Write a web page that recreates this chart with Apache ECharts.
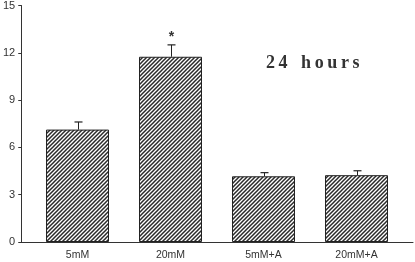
<!DOCTYPE html>
<html>
<head>
<meta charset="utf-8">
<script src="https://cdn.jsdelivr.net/npm/echarts@6/dist/echarts.min.js"></script>
<style>
  html, body { margin: 0; padding: 0; background: #fff; }
  #chart { width: 415px; height: 262px; }
</style>
</head>
<body>
<div id="chart"></div>
<script>
// data
const categories = ['5mM', '20mM', '5mM+A', '20mM+A'];
const means = [7.1, 11.7, 4.15, 4.22];
const errTops = [7.58, 12.45, 4.38, 4.5];
const marks = ['', '*', '', ''];
const yTicks = [0, 3, 6, 9, 12, 15];

// diagonal hatch for the bars
function hatch() {
    let c = document.createElement('canvas');
    c.width = 4; c.height = 4;
    let ctx = c.getContext('2d');
    ctx.fillStyle = '#fff';
    ctx.fillRect(0, 0, 4, 4);
    ctx.strokeStyle = '#2a2a2a';
    ctx.lineWidth = 1.5;
    ctx.beginPath();
    ctx.moveTo(-1, 5); ctx.lineTo(5, -1);
    ctx.moveTo(-3, 3); ctx.lineTo(3, -3);
    ctx.moveTo(1, 7); ctx.lineTo(7, 1);
    ctx.stroke();
    return c;
}

let myChart = echarts.init(document.getElementById('chart'));
let txt = '#333';
let option = {
    animation: false,
    title: {
        // thin spaces to mimic the wide letter spacing
        text: '2\u20094   h\u2009o\u2009u\u2009r\u2009s',
        left: 261, top: 49,
        textStyle: {fontFamily: 'Liberation Serif', fontWeight: 'bold', fontSize: 18, color: '#333'}
    },
    grid: [
        {left: 31, right: 12, top: 4.5, bottom: 20},
        {left: 21, right: 2, top: 4.5, bottom: 20}
    ],
    xAxis: [
        {
            type: 'category', gridIndex: 0, data: categories,
            axisLine: {show: false}, axisTick: {show: false},
            axisLabel: {color: txt, fontSize: 10.5, fontFamily: 'Liberation Sans', margin: 8}
        },
        {
            type: 'value', gridIndex: 1, min: 0, max: 1,
            axisLine: {show: true, lineStyle: {color: '#333', width: 1}},
            axisTick: {show: false}, axisLabel: {show: false}, splitLine: {show: false}
        }
    ],
    yAxis: [
        {type: 'value', gridIndex: 0, min: 0, max: 15, show: false},
        {
            type: 'value', gridIndex: 1, min: 0, max: 15, interval: 3,
            axisLine: {show: true, lineStyle: {color: '#333', width: 1}},
            axisTick: {show: true, length: 3, lineStyle: {color: '#333'}},
            axisLabel: {color: txt, fontSize: 11, fontFamily: 'Liberation Sans', margin: 6,
                formatter: v => yTicks.indexOf(v) >= 0 ? String(v) : ''},
            splitLine: {show: false}
        }
    ],
    series: [
        {
            type: 'bar', xAxisIndex: 0, yAxisIndex: 0,
            data: means,
            barWidth: 63,
            itemStyle: {color: {image: hatch(), repeat: 'repeat'}, borderColor: '#222', borderWidth: 1}
        },
        {
            type: 'custom', xAxisIndex: 0, yAxisIndex: 0,
            data: categories.map((c, i) => [i, means[i], errTops[i]]),
            z: 5,
            renderItem: function (params, api) {
                let base = api.coord([api.value(0), api.value(1)]);
                let top = api.coord([api.value(0), api.value(2)]);
                let x = Math.round(base[0]) + 0.5;
                let kids = [
                    {type: 'line', shape: {x1: x, y1: base[1], x2: x, y2: top[1]}, style: {stroke: '#222', lineWidth: 1}},
                    {type: 'line', shape: {x1: x - 4, y1: top[1], x2: x + 4, y2: top[1]}, style: {stroke: '#222', lineWidth: 1.2}}
                ];
                let m = marks[params.dataIndex];
                if (m) {
                    kids.push({type: 'text', x: x, y: top[1] - 1,
                        style: {text: m, fill: '#333', fontSize: 14, fontFamily: 'Liberation Sans', fontWeight: 'bold',
                            textAlign: 'center', textVerticalAlign: 'bottom'}});
                }
                return {type: 'group', children: kids};
            }
        }
    ]
};
myChart.setOption(option);
</script>
</body>
</html>
